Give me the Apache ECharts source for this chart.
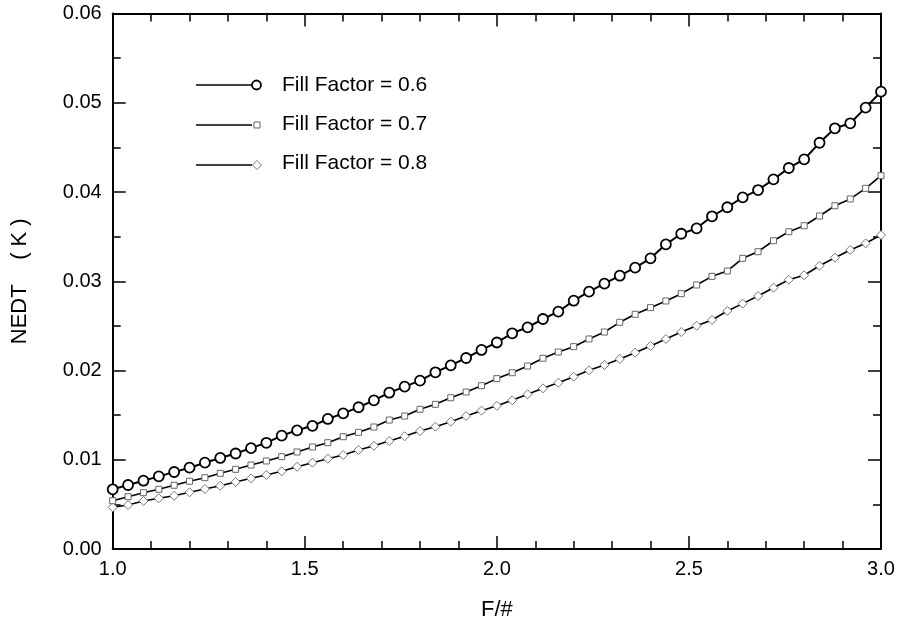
<!DOCTYPE html>
<html>
<head>
<meta charset="utf-8">
<script src="https://cdn.jsdelivr.net/npm/echarts@6/dist/echarts.min.js"></script>
<style>html,body{margin:0;padding:0;background:#fff;}#c{width:899px;height:627px;}</style>
</head>
<body>
<div id="c"></div>
<script>
var fNumbers = [1.00,1.04,1.08,1.12,1.16,1.20,1.24,1.28,1.32,1.36,1.40,1.44,1.48,1.52,1.56,1.60,1.64,1.68,1.72,1.76,1.80,1.84,1.88,1.92,1.96,2.00,2.04,2.08,2.12,2.16,2.20,2.24,2.28,2.32,2.36,2.40,2.44,2.48,2.52,2.56,2.60,2.64,2.68,2.72,2.76,2.80,2.84,2.88,2.92,2.96,3.00];
var ff06 = [0.00669,0.00717,0.00765,0.00814,0.00863,0.00911,0.00967,0.0102,0.0107,0.0113,0.0119,0.0127,0.0133,0.0138,0.01457,0.0152,0.01588,0.01666,0.01751,0.01819,0.01886,0.0198,0.02058,0.0214,0.0223,0.02314,0.02417,0.02484,0.02577,0.02659,0.02782,0.02883,0.02973,0.03062,0.03152,0.03257,0.03414,0.03532,0.03593,0.03728,0.03829,0.0394,0.04022,0.04142,0.04269,0.04366,0.04552,0.04714,0.0477,0.04945,0.05124];
var ff07 = [0.00541,0.00586,0.00631,0.00669,0.00714,0.00759,0.00799,0.00848,0.00893,0.00941,0.00986,0.01034,0.01087,0.01143,0.01191,0.01258,0.01307,0.01367,0.01445,0.0149,0.01565,0.01621,0.01695,0.01759,0.0183,0.01909,0.01975,0.0205,0.02137,0.02207,0.02267,0.02353,0.02431,0.0254,0.0263,0.02704,0.02779,0.02861,0.02958,0.03055,0.03115,0.03257,0.03331,0.03454,0.03555,0.03622,0.03731,0.03846,0.03922,0.04041,0.04183];
var ff08 = [0.00467,0.00493,0.00538,0.00568,0.00597,0.00635,0.00672,0.00709,0.00751,0.00792,0.00829,0.00871,0.00922,0.00967,0.01012,0.01053,0.01109,0.01157,0.0121,0.01263,0.01322,0.0137,0.01426,0.0149,0.0155,0.01604,0.01666,0.01733,0.018,0.01863,0.0193,0.02002,0.02062,0.02129,0.022,0.02275,0.02353,0.02431,0.02502,0.02566,0.02667,0.02749,0.02835,0.02928,0.03017,0.03067,0.03174,0.03264,0.0335,0.03425,0.03518];
var seriesNames = ['Fill Factor = 0.6','Fill Factor = 0.7','Fill Factor = 0.8'];
var xTitle = 'F/#';
var yTitle = 'NEDT    ( K )';

function pairs(ys){ return fNumbers.map(function(x,i){ return [x, ys[i]]; }); }

var FONT = 'Liberation Sans, Arial, sans-serif';
var chart = echarts.init(document.getElementById('c'), null, {renderer:'canvas'});

function xAx(pos, showLabel){
  return {
    type:'value', position:pos, min:1, max:3, interval:0.5,
    name: showLabel ? xTitle : '', nameLocation:'middle', nameGap:50,
    nameTextStyle:{fontFamily:FONT, fontSize:22, color:'#000'},
    axisLine:{show:true, onZero:false, lineStyle:{color:'#000', width:2}},
    axisTick:{show:true, inside:true, length:13, lineStyle:{color:'#000', width:1.5}},
    minorTick:{show:true, splitNumber:5, length:8, lineStyle:{color:'#000', width:1.5}},
    axisLabel:{show:showLabel, margin:10, fontFamily:FONT, fontSize:20, color:'#000',
      formatter:function(v){ return v.toFixed(1); }},
    splitLine:{show:false}
  };
}
function yAx(pos, showLabel){
  return {
    type:'value', position:pos, min:0, max:0.06, interval:0.01,
    name: showLabel ? yTitle : '', nameLocation:'middle', nameGap:82, nameRotate:90,
    nameTextStyle:{fontFamily:FONT, fontSize:22, color:'#000'},
    axisLine:{show:true, onZero:false, lineStyle:{color:'#000', width:2}},
    axisTick:{show:true, inside:true, length:13, lineStyle:{color:'#000', width:1.5}},
    minorTick:{show:true, splitNumber:2, length:8, lineStyle:{color:'#000', width:1.5}},
    axisLabel:{show:showLabel, margin:11, fontFamily:FONT, fontSize:20, color:'#000',
      formatter:function(v){ return v.toFixed(2); }},
    splitLine:{show:false}
  };
}

var styles = [
  {symbol:'circle', size:10, border:'#000', bw:1.8, lw:2},
  {symbol:'rect', size:6, border:'#666', bw:1, lw:1.6},
  {symbol:'diamond', size:9, border:'#777', bw:1, lw:1.6}
];
var data = [ff06, ff07, ff08];

var series = data.map(function(d,i){
  var s = styles[i];
  return {
    name: seriesNames[i], type:'line', data: pairs(d),
    symbol:s.symbol, symbolSize:s.size, showSymbol:true,
    lineStyle:{color:'#000', width:s.lw},
    itemStyle:{color:'#fff', borderColor:s.border, borderWidth:s.bw},
    z: 10 - i, animation:false
  };
});

// legend drawn as graphic
var legY = [85,125,165];
var textY = [85.5,124.5,163.5];
var graphics = [];
legY.forEach(function(y,i){
  graphics.push({type:'line', shape:{x1:196,y1:y,x2:252,y2:y}, style:{stroke:'#000', lineWidth:1.4}});
  if(i===0){
    graphics.push({type:'circle', shape:{cx:256.5, cy:y, r:4.5}, style:{fill:'#fff', stroke:'#000', lineWidth:1.8}});
  } else if(i===1){
    graphics.push({type:'rect', shape:{x:254, y:y-3, width:6, height:6}, style:{fill:'#fff', stroke:'#666', lineWidth:1}});
  } else {
    graphics.push({type:'polygon', shape:{points:[[252.5,y],[257,y-4.5],[261.5,y],[257,y+4.5]]}, style:{fill:'#fff', stroke:'#777', lineWidth:1}});
  }
  graphics.push({type:'text', x:282, y:textY[i], style:{text:seriesNames[i], font:'21px ' + FONT, fill:'#000', textVerticalAlign:'middle', verticalAlign:'middle'}});
});

chart.setOption({
  animation:false,
  backgroundColor:'#fff',
  grid:{left:112.7, right:18, top:13.5, bottom:78, containLabel:false},
  xAxis:[xAx('bottom', true), xAx('top', false)],
  yAxis:[yAx('left', true), yAx('right', false)],
  series: series,
  graphic: graphics
});
</script>
</body>
</html>
